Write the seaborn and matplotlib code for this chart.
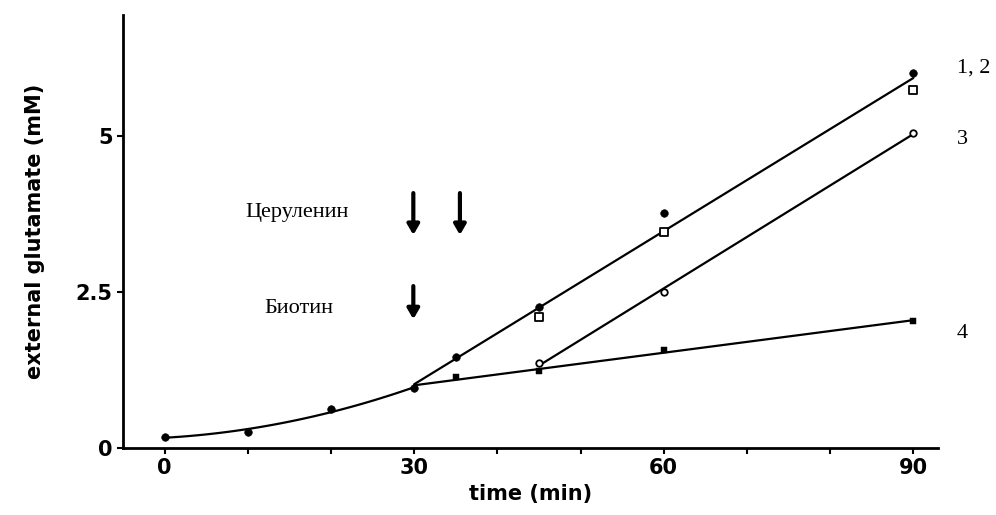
import numpy as np
import pandas as pd
import matplotlib
matplotlib.use("Agg")
import matplotlib.pyplot as plt
import seaborn as sns

# early phase (common to all cultures)
t_early = [0, 10, 20, 30]
glu_early = [0.18, 0.26, 0.62, 0.96]

# after additions
t_s1 = [30, 35, 45, 60, 90]
glu_s1 = [0.96, 1.46, 2.26, 3.77, 6.01]   # filled circles
t_s2 = [45, 60, 90]
glu_s2 = [2.10, 3.46, 5.74]               # open squares
t_s3 = [45, 60, 90]
glu_s3 = [1.36, 2.50, 5.05]               # open circles
t_s4 = [30, 35, 45, 60, 90]
glu_s4 = [0.96, 1.14, 1.24, 1.57, 2.03]   # small dots

x_ticks = [0, 30, 60, 90]
y_ticks = [0, 2.5, 5]
y_ticklabels = ["0", "2.5", "5"]
curve_labels = ["1, 2", "3", "4"]
curve_label_y = [6.09, 4.94, 1.84]

sns.set_style("ticks", {"axes.edgecolor": "black", "text.color": "black",
                        "axes.labelcolor": "black", "xtick.color": "black",
                        "ytick.color": "black"})
plt.rcParams['font.family'] = ['DejaVu Sans']

fig = plt.figure(figsize=(9.96, 5.15), dpi=100)
ax = fig.add_axes([0.1235, 0.130, 0.8185, 0.841])

line_kw = dict(color="black", linewidth=1.6)

# fitted curves
sns.regplot(x=t_early, y=glu_early, order=2, ci=None, scatter=False,
            truncate=True, line_kws=line_kw, ax=ax)
df12 = pd.DataFrame({"t": t_s1 + t_s2, "g": glu_s1 + glu_s2})
sns.regplot(data=df12, x="t", y="g", ci=None, scatter=False,
            truncate=True, line_kws=line_kw, ax=ax)
sns.regplot(x=t_s3, y=glu_s3, ci=None, scatter=False,
            truncate=True, line_kws=line_kw, ax=ax)
sns.regplot(x=t_s4, y=glu_s4, ci=None, scatter=False,
            truncate=True, line_kws=line_kw, ax=ax)

# markers
sns.scatterplot(x=t_early, y=glu_early, color="black", marker="o", s=30,
                edgecolor="black", ax=ax, zorder=5)
sns.scatterplot(x=t_s1[1:], y=glu_s1[1:], color="black", marker="o", s=30,
                edgecolor="black", ax=ax, zorder=5)
sns.scatterplot(x=t_s2, y=glu_s2, marker="s", s=30, facecolor="white",
                edgecolor="black", linewidth=1.3, ax=ax, zorder=5)
sns.scatterplot(x=t_s3, y=glu_s3, marker="o", s=22, facecolor="white",
                edgecolor="black", linewidth=1.3, ax=ax, zorder=5)
sns.scatterplot(x=t_s4[1:], y=glu_s4[1:], color="black", marker="s", s=16,
                edgecolor="black", ax=ax, zorder=5)

ax.set_xlim(-5, 93)
ax.set_ylim(0, 6.94)
ax.set_xticks(x_ticks)
ax.set_xticks(np.arange(0, 91, 10), minor=True)
ax.set_yticks(y_ticks)
ax.set_yticklabels(y_ticklabels)
ax.tick_params(axis="both", which="major", length=4, width=1.5,
               labelsize=15, color="black", labelcolor="black")
ax.tick_params(axis="x", which="minor", length=4, width=1.5, color="black")
for lab in ax.get_xticklabels() + ax.get_yticklabels():
    lab.set_fontweight("bold")
sns.despine(ax=ax)
ax.spines["left"].set_linewidth(2)
ax.spines["bottom"].set_linewidth(2)

ax.set_xlabel("time (min)", fontsize=15, fontweight="bold", labelpad=4,
              color="black")
ax.set_ylabel("external glutamate (mM)", fontsize=15, fontweight="bold",
              labelpad=22, color="black")

serif = dict(family="Liberation Serif", fontsize=16, color="black")
ax.text(15.9, 3.77, "Церуленин", ha="center", va="center", **serif)
ax.text(16.1, 2.24, "Биотин", ha="center", va="center", **serif)

arrow_kw = dict(arrowstyle="-|>,head_width=0.35,head_length=0.6",
                color="black", lw=3)
ax.annotate("", xy=(29.9, 3.37), xytext=(29.9, 4.13), arrowprops=arrow_kw)
ax.annotate("", xy=(35.5, 3.37), xytext=(35.5, 4.13), arrowprops=arrow_kw)
ax.annotate("", xy=(29.9, 2.02), xytext=(29.9, 2.64), arrowprops=arrow_kw)

for lab, yy in zip(curve_labels, curve_label_y):
    ax.text(95.2, yy, lab, ha="left", va="center", clip_on=False, **serif)

fig.savefig("out.png", dpi=100)
